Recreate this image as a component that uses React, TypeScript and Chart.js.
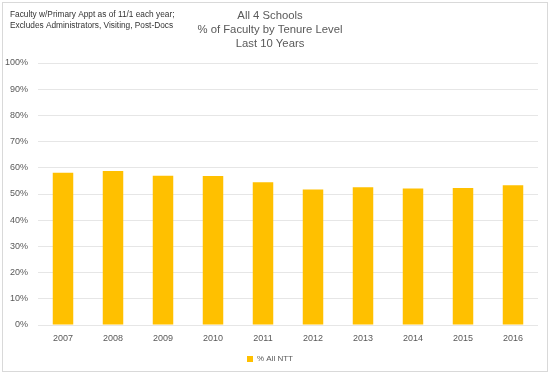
import React, { useEffect, useRef } from "react";
import { Chart, registerables } from "chart.js";

Chart.register(...registerables);

const categories = ["2007", "2008", "2009", "2010", "2011", "2012", "2013", "2014", "2015", "2016"];
const pctAllNTT = [58.1, 58.8, 57.0, 56.9, 54.5, 51.7, 52.6, 52.1, 52.3, 53.3];
const yTicks = [0, 10, 20, 30, 40, 50, 60, 70, 80, 90, 100];
const titleLines = ["All 4 Schools", "% of Faculty by Tenure Level", "Last 10 Years"];
const noteLines = ["Faculty w/Primary Appt as of 11/1 each year;", "Excludes Administrators, Visiting, Post-Docs"];
const seriesName = "% All NTT";

const FONT = "'Liberation Sans', Arial, sans-serif";
const TEXT = "#595959";

const decorPlugin = {
  id: "decor",
  beforeDraw(chart: any) {
    const ctx = chart.ctx;
    ctx.save();
    ctx.fillStyle = "#ffffff";
    ctx.fillRect(0, 0, chart.width, chart.height);
    ctx.strokeStyle = "#d9d9d9";
    ctx.lineWidth = 1;
    ctx.strokeRect(2.5, 2.5, chart.width - 5, chart.height - 5);
    ctx.restore();
  },
  afterDraw(chart: any) {
    const ctx = chart.ctx;
    ctx.save();
    ctx.fillStyle = "#333333";
    ctx.font = `8.3px ${FONT}`;
    ctx.textAlign = "left";
    ctx.textBaseline = "middle";
    noteLines.forEach((t, i) => ctx.fillText(t, 10, 15 + i * 10.5));
    ctx.fillStyle = TEXT;
    ctx.font = `11.3px ${FONT}`;
    ctx.textAlign = "center";
    titleLines.forEach((t, i) => ctx.fillText(t, 270, 15.5 + i * 14));
    ctx.restore();
  },
};

export default function App() {
  const ref = useRef<HTMLCanvasElement | null>(null);
  useEffect(() => {
    if (!ref.current) return;
    const chart = new Chart(ref.current, {
      type: "bar",
      data: {
        labels: categories,
        datasets: [
          {
            label: seriesName,
            data: pctAllNTT,
            backgroundColor: "#FFC000",
            barPercentage: 0.41,
            categoryPercentage: 1,
          },
        ],
      },
      options: {
        animation: false,
        responsive: false,
        layout: { padding: { top: 63, left: 2, right: 12, bottom: 1 } },
        plugins: {
          title: { display: false },
          tooltip: { enabled: false },
          legend: {
            display: true,
            position: "bottom",
            labels: {
              color: TEXT,
              font: { family: FONT, size: 8 },
              boxWidth: 6,
              boxHeight: 6,
              padding: 6,
            },
          },
        },
        scales: {
          x: {
            grid: { display: false, drawTicks: false },
            border: { display: false },
            ticks: { color: TEXT, font: { family: FONT, size: 9 }, padding: 8, maxRotation: 0 },
            afterFit: (s: any) => {
              s.height = 24;
            },
          },
          y: {
            min: 0,
            max: 100,
            afterBuildTicks: (s: any) => {
              s.ticks = yTicks.map((v) => ({ value: v }));
            },
            grid: { color: "#e6e6e6", drawTicks: false },
            border: { display: false },
            ticks: {
              color: TEXT,
              font: { family: FONT, size: 9 },
              padding: 10,
              callback: (v: any) => `${v}%`,
            },
            afterFit: (s: any) => {
              s.width = 36;
            },
          },
        },
      },
      plugins: [decorPlugin],
    });
    return () => chart.destroy();
  }, []);
  return (
    <div style={{ position: "fixed", left: 0, top: 0, width: 550, height: 374 }}>
      <canvas ref={ref} width={550} height={374} style={{ width: 550, height: 374 }} />
    </div>
  );
}
